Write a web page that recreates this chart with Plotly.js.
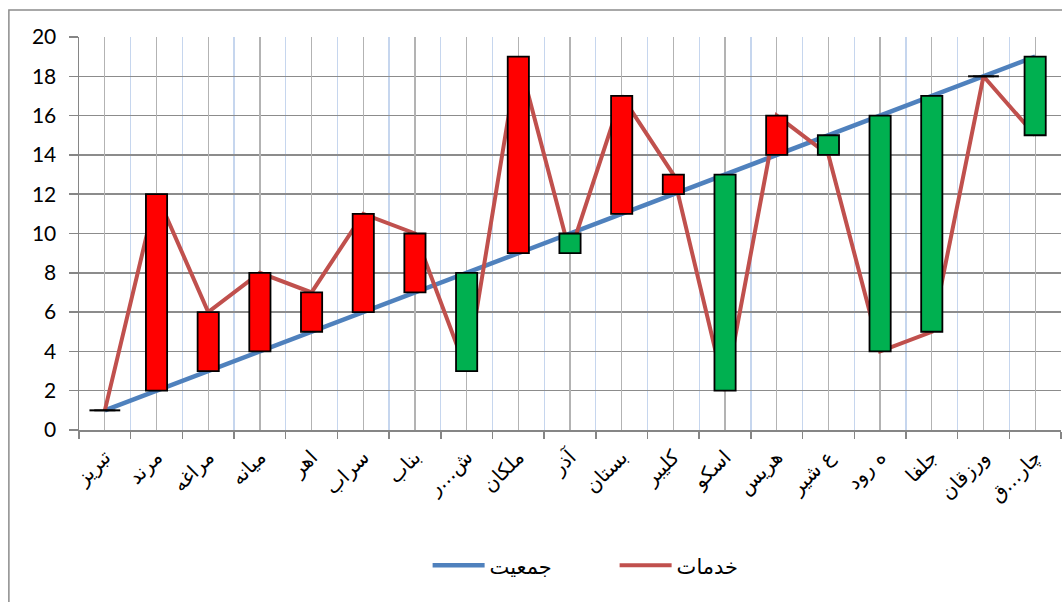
<!DOCTYPE html>
<html>
<head>
<meta charset="utf-8">
<script src="https://cdn.plot.ly/plotly-3.0.1.min.js"></script>
<style>html,body{margin:0;padding:0;background:#fff;}#chart{width:1062px;height:602px;}</style>
</head>
<body>
<div id="chart"></div>
<script>
const categories = ["تبریز","مرند","مراغه","میانه","اهر","سراب","بناب","ش...ر","ملکان","آذر","بستان","کلیبر","اسکو","هریس","ع شیر","ه رود","جلفا","ورزقان","چار...ق"];
const population = [1,2,3,4,5,6,7,8,9,10,11,12,13,14,15,16,17,18,19];
const services = [1,12,6,8,7,11,10,3,19,9,17,13,2,16,14,4,5,18,15];
const yTicks = [0,2,4,6,8,10,12,14,16,18,20];
const seriesNames = ["جمعیت","خدمات"];

const RED_BAR = "#FF0000", GREEN_BAR = "#00B050";
const bases = population.map((p,i)=>Math.min(p,services[i]));
const heights = population.map((p,i)=>Math.abs(services[i]-p));
const barColors = population.map((p,i)=> services[i] > p ? RED_BAR : GREEN_BAR);
const eqX = categories.filter((c,i)=>population[i]===services[i]);
const eqY = population.filter((p,i)=>p===services[i]);

const fontFam = "Lato, 'DejaVu Sans', sans-serif";
const arFam = "'DejaVu Sans', sans-serif";

const traces = [
  {type:"scatter", mode:"lines", x:categories, y:population, name:seriesNames[0],
   line:{color:"#4F81BD", width:4.5}, xaxis:"x", yaxis:"y", hoverinfo:"none"},
  {type:"scatter", mode:"lines", x:categories, y:services, name:seriesNames[1],
   line:{color:"#C0504D", width:4}, xaxis:"x", yaxis:"y", hoverinfo:"none"},
  {type:"bar", x:categories, y:heights, base:bases, width:0.41,
   marker:{color:barColors, line:{color:"#000", width:1.8}},
   xaxis:"x2", yaxis:"y2", showlegend:false, hoverinfo:"none"},
  {type:"scatter", mode:"markers", x:eqX, y:eqY,
   marker:{symbol:"line-ew", size:22, line:{color:"#000", width:2}},
   xaxis:"x2", yaxis:"y2", showlegend:false, hoverinfo:"none"}
];

const layout = {
  width:1062, height:602,
  margin:{l:79, r:1, t:37, b:172},
  paper_bgcolor:"#fff", plot_bgcolor:"#fff",
  showlegend:true,
  font:{family:fontFam, size:18, color:"#000"},
  xaxis:{type:"category", range:[-0.5,18.5], tickson:"boundaries",
    showgrid:true, gridcolor:"#C6D6EE", gridwidth:1.3,
    ticks:"outside", ticklen:7, tickcolor:"#868686", tickwidth:1.5,
    showline:true, linecolor:"#868686", linewidth:1.5, ticklabelstandoff:6,
    tickangle:-45, tickfont:{family:arFam, size:20, color:"#000"}, fixedrange:true},
  xaxis2:{type:"category", overlaying:"x", range:[-0.5,18.5],
    showgrid:true, gridcolor:"#B3B3B3", gridwidth:1.3,
    showticklabels:false, ticks:"", showline:false, zeroline:false, fixedrange:true},
  yaxis:{range:[0,20], tickvals:yTicks, ticktext:yTicks.map(String),
    showgrid:true, gridcolor:"#8C8C8C", gridwidth:1.5,
    ticks:"outside", ticklen:9, tickcolor:"#868686", tickwidth:1.5,
    showline:true, linecolor:"#868686", linewidth:1.5, zeroline:false,
    ticklabelstandoff:8,
    tickfont:{family:fontFam, size:21, color:"#000"}, fixedrange:true},
  yaxis2:{range:[0,20], overlaying:"y", showgrid:false, showticklabels:false,
    ticks:"", zeroline:false, showline:false, fixedrange:true},
  legend:{orientation:"h", x:0.355, xanchor:"left", y:-0.293, yanchor:"top",
    font:{family:arFam, size:21, color:"#000"}, entrywidth:120, itemwidth:52, traceorder:"normal"},
  shapes:[
    {type:"path", xref:"paper", yref:"paper",
     path:"M -0.0714,-0.5 L -0.0714,1.0687 L 1.05,1.0687",
     line:{color:"#8C8C8C", width:1.5}}
  ]
};

Plotly.newPlot("chart", traces, layout, {displayModeBar:false, staticPlot:true});
</script>
</body>
</html>
